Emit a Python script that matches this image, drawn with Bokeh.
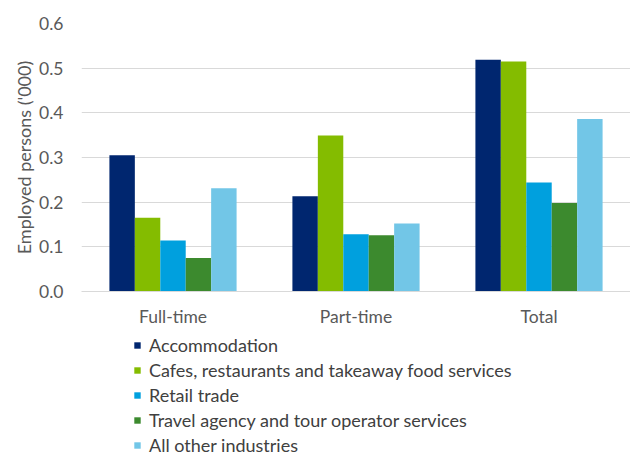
from bokeh.plotting import figure
from bokeh.layouts import column
from bokeh.models import FactorRange, Range1d, Legend, LegendItem, ColumnDataSource, FixedTicker, NumeralTickFormatter
from bokeh.transform import dodge
from bokeh.embed import file_html
from bokeh.resources import INLINE

categories = ["Full-time", "Part-time", "Total"]
series_names = ["Accommodation",
                "Cafes, restaurants and takeaway food services",
                "Retail trade",
                "Travel agency and tour operator services",
                "All other industries"]
accommodation = [0.305, 0.213, 0.519]
cafes = [0.165, 0.349, 0.515]
retail = [0.114, 0.128, 0.244]
travel = [0.075, 0.126, 0.198]
other = [0.231, 0.152, 0.386]
y_ticks = [0.0, 0.1, 0.2, 0.3, 0.4, 0.5, 0.6]
colors = ["#00266F", "#84BC00", "#00A0DE", "#3C8A2E", "#72C6E7"]

keys = ["s0", "s1", "s2", "s3", "s4"]
source = ColumnDataSource(dict(cat=categories, s0=accommodation, s1=cafes,
                               s2=retail, s3=travel, s4=other))

FONT = "Lato"
TXT = "#595959"

p = figure(x_range=FactorRange(*categories, range_padding=0), y_range=Range1d(0, 0.6),
           width=630, height=330, output_backend="svg", toolbar_location=None,
           min_border_left=81, min_border_right=0, min_border_top=23, min_border_bottom=39)
p.outline_line_color = None

bw = 0.139
offsets = [-2 * bw, -bw, 0, bw, 2 * bw]
for i, key in enumerate(keys):
    p.vbar(x=dodge("cat", offsets[i], range=p.x_range), top=key, width=bw,
           source=source, fill_color=colors[i], line_color=None)

p.xgrid.grid_line_color = None
p.ygrid.grid_line_color = "#D9D9D9"
p.ygrid.grid_line_width = 1
p.yaxis.ticker = FixedTicker(ticks=y_ticks)
p.yaxis.formatter = NumeralTickFormatter(format="0.0")
p.yaxis.axis_line_color = None
p.yaxis.major_tick_line_color = None
p.yaxis.minor_tick_line_color = None
p.yaxis.major_tick_out = 0
p.yaxis.major_label_standoff = 18
p.yaxis.axis_label = "Employed persons ('000)"
p.yaxis.axis_label_standoff = 1
p.yaxis.axis_label_text_font = FONT
p.yaxis.axis_label_text_font_style = "normal"
p.yaxis.axis_label_text_font_size = "18px"
p.yaxis.axis_label_text_color = TXT

p.xaxis.axis_line_color = "#D9D9D9"
p.xaxis.major_tick_line_color = None
p.xaxis.minor_tick_line_color = None
p.xaxis.major_tick_out = 0
p.xaxis.major_label_standoff = 14

for ax in (p.xaxis, p.yaxis):
    ax.major_label_text_font = FONT
    ax.major_label_text_font_size = "17.5px"
    ax.major_label_text_color = TXT

# Legend panel below the chart (bars here fall outside its y-range, only the legend shows)
p2 = figure(x_range=p.x_range, y_range=Range1d(10, 11), width=630, height=126,
            output_backend="svg", toolbar_location=None,
            x_axis_location=None, y_axis_location=None,
            min_border_left=81, min_border_right=0, min_border_top=0, min_border_bottom=0)
p2.outline_line_color = None
p2.grid.visible = False
legend_renderers = [p2.vbar(x=dodge("cat", offsets[i], range=p2.x_range), top=key, width=bw,
                            source=source, fill_color=colors[i], line_color=None)
                    for i, key in enumerate(keys)]

legend = Legend(items=[LegendItem(label=series_names[i], renderers=[legend_renderers[i]]) for i in range(5)],
                location=(52, 0), orientation="vertical",
                glyph_width=8, glyph_height=8, label_standoff=8, spacing=3,
                padding=0, margin=0, border_line_color=None, background_fill_alpha=0,
                label_text_font=FONT, label_text_font_size="18px", label_text_color="#404040")
p2.add_layout(legend, "center")

layout = column(p, p2, spacing=0)
open("out.html", "w").write(file_html(layout, INLINE))
